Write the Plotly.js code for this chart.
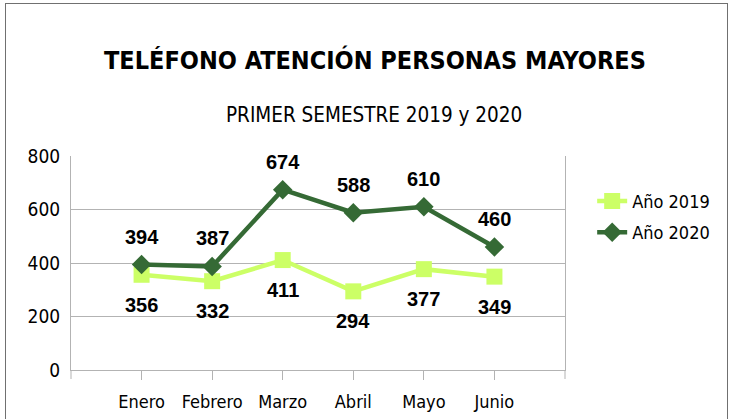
<!DOCTYPE html>
<html><head><meta charset="utf-8">
<script src="https://cdn.plot.ly/plotly-3.0.1.min.js"></script>
<style>
html,body{margin:0;padding:0;background:#fff;}
#frame{position:absolute;left:5px;top:3px;width:721px;height:430px;border:1px solid #707070;}
#chart{position:absolute;left:0;top:0;width:733px;height:419px;}
</style></head><body>
<div id="frame"></div>
<div id="chart"></div>
<script>
const months = ["Enero","Febrero","Marzo","Abril","Mayo","Junio"];
const year2019 = [356,332,411,294,377,349];
const year2020 = [394,387,674,588,610,460];
const yTicks = [0,200,400,600,800];
const seriesNames = ["Año 2019","Año 2020"];

const narrow = '"Liberation Sans Narrow", "DejaVu Sans Condensed", "Liberation Sans", sans-serif';
const c2019 = '#ccff66';
const c2020 = '#356a35';

const traces = [
  {x: months, y: year2019, name: seriesNames[0], legendgroup: 'a', type: 'scatter', mode: 'lines+markers',
   line: {color: c2019, width: 4.5}, marker: {symbol: 'square', size: 16, color: c2019}},
  {x: months, y: year2020, name: seriesNames[1], legendgroup: 'b', type: 'scatter', mode: 'lines+markers',
   line: {color: c2020, width: 4.5}, marker: {symbol: 'diamond', size: 15, color: c2020}}
];

const labelFont = {family: '"Liberation Sans", Arial, sans-serif', size: 20, color: '#000'};
const annotations = [];
months.forEach((m, i) => {
  annotations.push({x: m, y: year2019[i], xref: 'x', yref: 'y', text: '<b>' + year2019[i] + '</b>',
    showarrow: false, yshift: -30, font: labelFont});
  annotations.push({x: m, y: year2020[i], xref: 'x', yref: 'y', text: '<b>' + year2020[i] + '</b>',
    showarrow: false, yshift: 28, font: labelFont});
});
annotations.push({xref: 'paper', yref: 'paper', x: 0.616, y: 1, yshift: 113, showarrow: false,
  text: '<b>TELÉFONO ATENCIÓN PERSONAS MAYORES</b>', font: {family: narrow, size: 25, color: '#000'}});
annotations.push({xref: 'paper', yref: 'paper', x: 0.614, y: 1, yshift: 55, showarrow: false,
  text: 'PRIMER SEMESTRE 2019 y 2020', font: {family: narrow, size: 20.5, color: '#000'}});

const shapes = [0, 1].map(px => ({type: 'line', xref: 'paper', yref: 'paper', x0: px, x1: px, y0: 0, y1: -0.042,
  line: {color: '#b3b3b3', width: 1}}));

const layout = {
  width: 733, height: 419,
  margin: {l: 71, r: 168, t: 156, b: 49},
  paper_bgcolor: 'rgba(0,0,0,0)', plot_bgcolor: 'rgba(0,0,0,0)',
  showlegend: true,
  legend: {x: 1.055, y: 0.875, xanchor: 'left', yanchor: 'top', font: {family: narrow, size: 18, color: '#000'},
    tracegroupgap: 5},
  xaxis: {type: 'category', range: [-1, 6], showgrid: false, showline: true, linecolor: '#b3b3b3',
    ticks: 'outside', ticklen: 9, tickcolor: '#b3b3b3', tickfont: {family: narrow, size: 18, color: '#000'},
    zeroline: false, fixedrange: true, ticklabelstandoff: 6},
  yaxis: {range: [0, 800], tickvals: yTicks, showgrid: true, gridcolor: '#b3b3b3', showline: true, mirror: true,
    linecolor: '#b3b3b3', ticks: '', tickfont: {family: narrow, size: 19, color: '#000'}, zeroline: false,
    ticklabelstandoff: 6},
  annotations: annotations,
  shapes: shapes
};
Plotly.newPlot('chart', traces, layout, {displayModeBar: false, staticPlot: true});
</script>
</body></html>
